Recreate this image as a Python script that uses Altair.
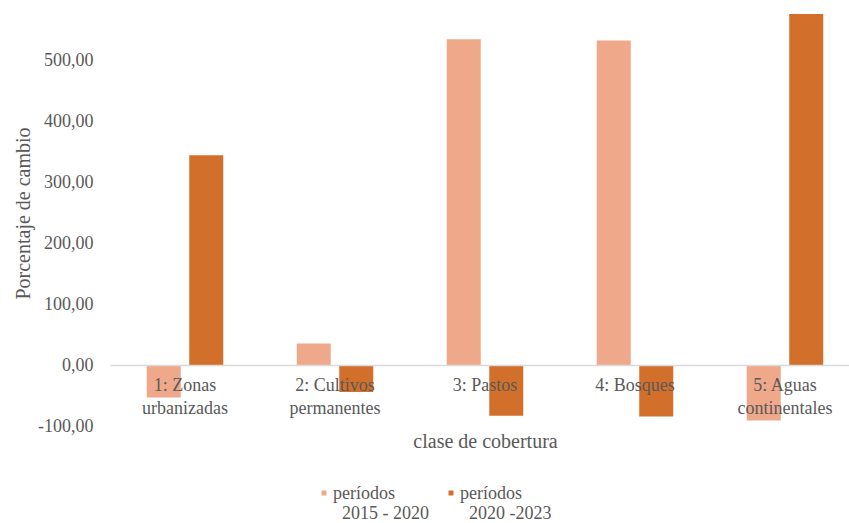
import altair as alt
import pandas as pd

# Land-cover classes and percentage change per period
categories = [
    "1: Zonas urbanizadas",
    "2: Cultivos permanentes",
    "3: Pastos",
    "4: Bosques",
    "5: Aguas continentales",
]
series = ["períodos 2015 - 2020", "períodos 2020 -2023"]
change_2015_2020 = [-53.0, 35.5, 535.5, 533.5, -91.0]
change_2020_2023 = [345.0, -44.0, -83.0, -84.5, 577.0]

rows = []
for cat, a, b in zip(categories, change_2015_2020, change_2020_2023):
    rows.append({"clase": cat, "periodo": series[0], "valor": a})
    rows.append({"clase": cat, "periodo": series[1], "valor": b})
df = pd.DataFrame(rows)

FONT = "'Times New Roman', 'Liberation Serif', serif"
GREY = "#595959"
# zero-width space keeps the following non-breaking spaces from being trimmed
INDENT = "\u200b\u00a0\u00a0"

x_label_expr = (
    "lastindexof(datum.label, ' ') > 2 ? "
    "[substring(datum.label, 0, lastindexof(datum.label, ' ')), "
    "substring(datum.label, lastindexof(datum.label, ' ') + 1)] : datum.label"
)
y_label_expr = (
    "datum.value < 0 ? '-' + replace(format(-datum.value, '.2f'), '.', ',') "
    ": replace(format(datum.value, '.2f'), '.', ',')"
)
legend_label_expr = f"['períodos', '{INDENT}' + slice(datum.label, 9)]"

chart = (
    alt.Chart(df)
    .mark_bar()
    .encode(
        x=alt.X(
            "clase:N",
            sort=categories,
            scale=alt.Scale(range=[0, 750], paddingInner=0.4333, paddingOuter=0.2167),
            axis=alt.Axis(
                title="clase de cobertura",
                labelAngle=0,
                labelExpr=x_label_expr,
                labelLineHeight=23,
                labelPadding=11,
                labelFont=FONT,
                labelFontSize=18,
                labelColor=GREY,
                titleFont=FONT,
                titleFontSize=20,
                titleFontWeight="normal",
                titleColor=GREY,
                titlePadding=14,
                ticks=False,
                domainColor="#d9d9d9",
                domainWidth=1.5,
                offset=-61,
                zindex=1,
            ),
        ),
        xOffset=alt.XOffset(
            "periodo:N",
            sort=series,
            scale=alt.Scale(paddingInner=0.2, paddingOuter=0.1),
        ),
        y=alt.Y(
            "valor:Q",
            scale=alt.Scale(domain=[-100, 600], nice=False, zero=False),
            axis=alt.Axis(
                title="Porcentaje de cambio",
                values=[-100, 0, 100, 200, 300, 400, 500],
                labelExpr=y_label_expr,
                labelFont=FONT,
                labelFontSize=18,
                labelColor=GREY,
                labelPadding=17,
                titleFont=FONT,
                titleFontSize=20,
                titleFontWeight="normal",
                titleColor=GREY,
                titlePadding=4,
                ticks=False,
                domain=False,
                grid=False,
            ),
        ),
        color=alt.Color(
            "periodo:N",
            sort=series,
            scale=alt.Scale(domain=series, range=["#F0A88A", "#D26F2A"]),
            legend=alt.Legend(
                title=None,
                orient="none",
                direction="horizontal",
                legendX=205,
                legendY=476,
                symbolType="M-0.5,1.1h1v1h-1z",
                symbolSize=100,
                symbolStrokeWidth=0,
                labelExpr=legend_label_expr,
                labelBaseline="top",
                labelFont=FONT,
                labelFontSize=18,
                labelColor=GREY,
                labelOffset=0,
                columnPadding=13,
                padding=0,
                labelLimit=200,
            ),
        ),
    )
    .properties(
        width=739,
        height=426,
        autosize=alt.AutoSizeParams(type="none"),
        padding={"left": 110, "top": 0, "right": 0, "bottom": 97},
    )
    .configure_view(stroke=None)
)

chart.save("out.html", embed_options={"renderer": "svg", "actions": False})
